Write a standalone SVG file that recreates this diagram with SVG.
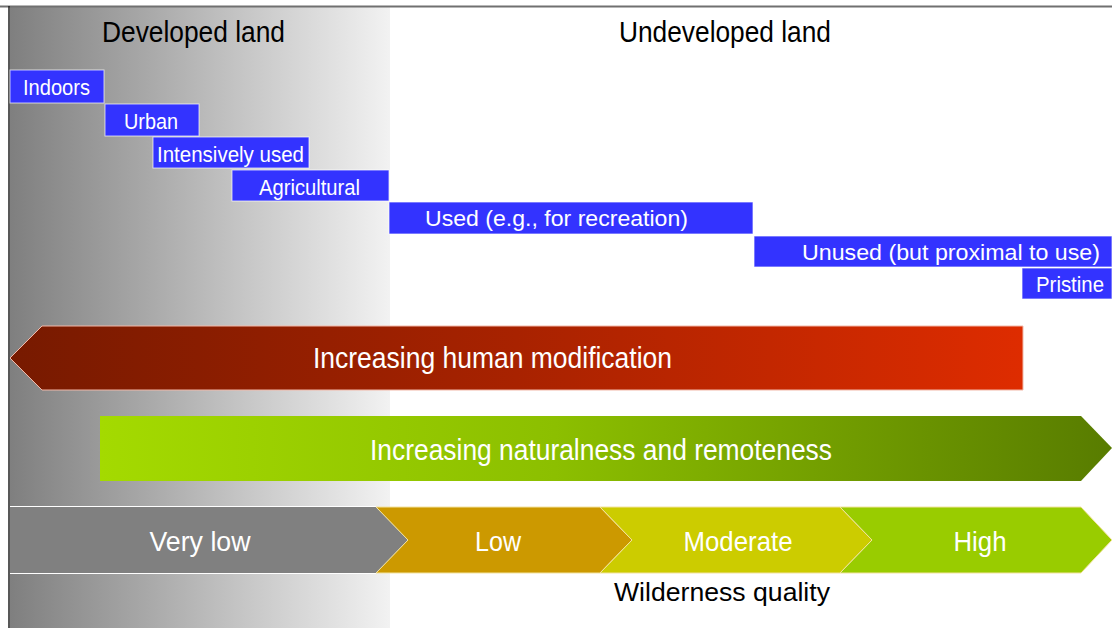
<svg xmlns="http://www.w3.org/2000/svg" width="1112" height="628" viewBox="0 0 1112 628">
<defs>
<linearGradient id="bgGrad" x1="10" y1="0" x2="390" y2="0" gradientUnits="userSpaceOnUse">
<stop offset="0" stop-color="#7f7f7f"/>
<stop offset="1" stop-color="#f2f2f2"/>
</linearGradient>
<linearGradient id="redGrad" x1="10" y1="0" x2="1023" y2="0" gradientUnits="userSpaceOnUse">
<stop offset="0" stop-color="#771a00"/>
<stop offset="0.5" stop-color="#a82200"/>
<stop offset="1" stop-color="#de2c00"/>
</linearGradient>
<linearGradient id="greenGrad" x1="100" y1="0" x2="1112" y2="0" gradientUnits="userSpaceOnUse">
<stop offset="0" stop-color="#a4da00"/>
<stop offset="0.45" stop-color="#8cbf00"/>
<stop offset="1" stop-color="#587c00"/>
</linearGradient>
</defs>
<style>
text{font-family:"Liberation Sans",Arial,sans-serif;}
.hdr{font-size:29px;fill:#000;}
.box{fill:#3333ff;stroke:#ffffff;stroke-width:1;stroke-opacity:0.7;}
.bl{font-size:22px;fill:#fff;}
.big{font-size:29px;fill:#fff;}
.chev{stroke:#f3e3a0;stroke-width:1;}
.cl{font-size:28px;fill:#fff;text-anchor:middle;}
</style>
<rect x="0" y="0" width="1112" height="628" fill="#fff"/>
<g id="background">
<rect x="10" y="7" width="380" height="621" fill="url(#bgGrad)"/>
<line x1="0" y1="6.5" x2="1112" y2="6.5" stroke="#707070" stroke-width="2"/>
<line x1="9" y1="6" x2="9" y2="628" stroke="#202020" stroke-width="1.5"/>
</g>
<g id="header-developed"><text class="hdr" x="102" y="42" textLength="183" lengthAdjust="spacingAndGlyphs">Developed land</text></g>
<g id="header-undeveloped"><text class="hdr" x="619" y="42" textLength="212" lengthAdjust="spacingAndGlyphs">Undeveloped land</text></g>
<g id="indoors"><rect class="box" x="10" y="70" width="94" height="33"/><text class="bl" x="23" y="95" textLength="67" lengthAdjust="spacingAndGlyphs">Indoors</text></g>
<g id="urban"><rect class="box" x="105" y="104" width="94" height="32"/><text class="bl" x="124" y="129" textLength="54" lengthAdjust="spacingAndGlyphs">Urban</text></g>
<g id="intensively-used"><rect class="box" x="153" y="137" width="156" height="31"/><text class="bl" x="157" y="162" textLength="147" lengthAdjust="spacingAndGlyphs">Intensively  used</text></g>
<g id="agricultural"><rect class="box" x="232" y="170" width="157" height="31"/><text class="bl" x="259" y="195" textLength="101" lengthAdjust="spacingAndGlyphs">Agricultural</text></g>
<g id="used"><rect class="box" x="389" y="202" width="364" height="32"/><text class="bl" x="425" y="226" textLength="263" lengthAdjust="spacingAndGlyphs">Used (e.g., for recreation)</text></g>
<g id="unused"><rect class="box" x="754" y="236" width="358" height="31"/><text class="bl" x="802" y="260" textLength="298" lengthAdjust="spacingAndGlyphs">Unused (but proximal  to use)</text></g>
<g id="pristine"><rect class="box" x="1022" y="268" width="90" height="31"/><text class="bl" x="1036" y="292" textLength="68" lengthAdjust="spacingAndGlyphs">Pristine</text></g>
<g id="human-modification">
<polygon points="10,358 42,326 1023,326 1023,390 42,390" fill="url(#redGrad)" stroke="#f2b8a8" stroke-width="1"/>
<text class="big" x="313" y="368" textLength="359" lengthAdjust="spacingAndGlyphs">Increasing human modification</text>
</g>
<g id="naturalness">
<polygon points="100,416 1081,416 1112,448 1081,481 100,481" fill="url(#greenGrad)"/>
<text class="big" x="370" y="460" textLength="462" lengthAdjust="spacingAndGlyphs">Increasing naturalness and remoteness</text>
</g>
<g id="very-low">
<polygon points="10,507 376,507 408,540 376,573 10,573" fill="#808080"/>
<line x1="10" y1="506.5" x2="376" y2="506.5" stroke="#fff" stroke-width="1"/>
<line x1="10" y1="573.5" x2="376" y2="573.5" stroke="#fff" stroke-width="1"/>
<text class="cl" x="200" y="551" textLength="101" lengthAdjust="spacingAndGlyphs">Very low</text>
</g>
<g id="low">
<polygon class="chev" points="376,507 600,507 632,540 600,573 376,573 408,540" fill="#cc9900"/>
<text class="cl" x="498" y="551" textLength="46" lengthAdjust="spacingAndGlyphs">Low</text>
</g>
<g id="moderate">
<polygon class="chev" points="600,507 840,507 872,540 840,573 600,573 632,540" fill="#cccc00"/>
<text class="cl" x="738" y="551" textLength="109" lengthAdjust="spacingAndGlyphs">Moderate</text>
</g>
<g id="high">
<polygon class="chev" points="840,507 1081,507 1112,540 1081,573 840,573 872,540" fill="#99cc00"/>
<text class="cl" x="980" y="551" textLength="53" lengthAdjust="spacingAndGlyphs">High</text>
</g>
<g id="wilderness-quality"><text x="614" y="601" font-size="26" fill="#000" textLength="216" lengthAdjust="spacingAndGlyphs">Wilderness quality</text></g>
<g id="connectors"></g>
</svg>
